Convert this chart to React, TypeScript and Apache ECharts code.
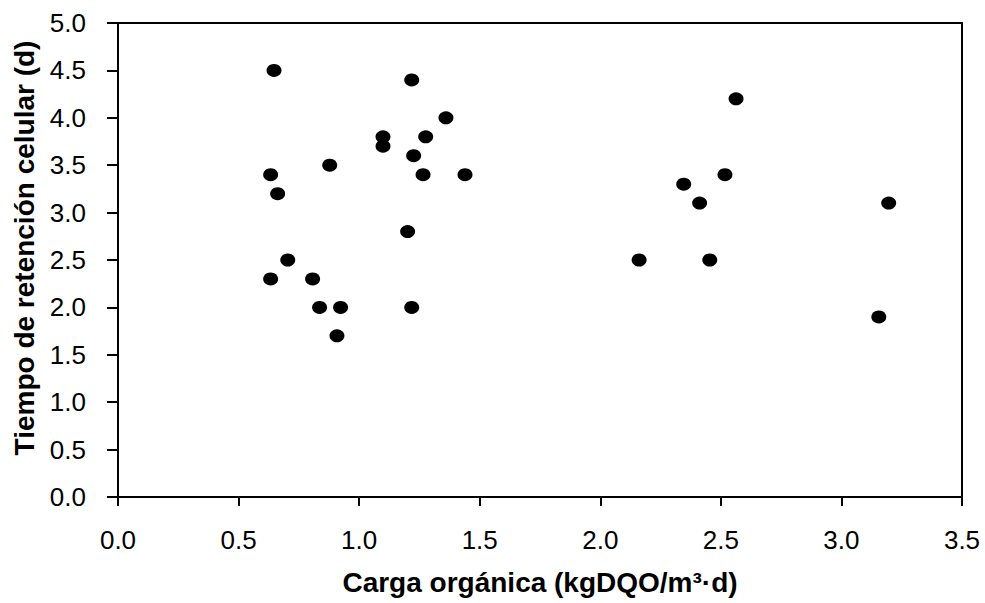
import React, { useEffect, useRef } from "react";
import * as echarts from "echarts";

const xTitle = "Carga orgánica (kgDQO/m³·d)";
const yTitle = "Tiempo de retención celular (d)";

const cargaOrganica = [
  0.647, 1.218, 1.36, 1.099, 1.276, 1.099, 1.226, 0.878, 0.633, 1.265,
  1.439, 0.662, 1.201, 0.704, 0.633, 0.807, 0.836, 0.923, 1.218, 0.908,
  2.563, 2.517, 2.346, 2.412, 3.196, 2.161, 2.454, 3.155,
];
const tiempoRetencion = [
  4.5, 4.4, 4.0, 3.8, 3.8, 3.7, 3.6, 3.5, 3.4, 3.4,
  3.4, 3.2, 2.8, 2.5, 2.3, 2.3, 2.0, 2.0, 2.0, 1.7,
  4.2, 3.4, 3.3, 3.1, 3.1, 2.5, 2.5, 1.9,
];

const FONT = "'Liberation Sans', Arial, sans-serif";

export default function App() {
  const ref = useRef<HTMLDivElement>(null);
  useEffect(() => {
    if (!ref.current) return;
    const chart = echarts.init(ref.current, null, { renderer: "svg" });
    const data = cargaOrganica.map((x, i) => [x, tiempoRetencion[i]]);
    chart.setOption({
      animation: false,
      backgroundColor: "#fff",
      grid: {
        left: 118,
        right: 23,
        top: 23,
        bottom: 106,
        show: true,
        borderColor: "#000",
        borderWidth: 2,
        backgroundColor: "transparent",
      },
      xAxis: {
        type: "value",
        min: 0,
        max: 3.5,
        interval: 0.5,
        name: xTitle,
        nameLocation: "middle",
        nameGap: 71,
        nameTextStyle: { fontFamily: FONT, fontSize: 28, fontWeight: "bold", color: "#000" },
        axisLine: { show: true, lineStyle: { color: "#000", width: 2 } },
        axisTick: { show: true, inside: false, length: 9, lineStyle: { color: "#000", width: 2 } },
        axisLabel: {
          fontFamily: FONT,
          fontSize: 26,
          color: "#000",
          margin: 30,
          formatter: (v: number) => v.toFixed(1),
        },
        splitLine: { show: false },
      },
      yAxis: {
        type: "value",
        min: 0,
        max: 5,
        interval: 0.5,
        name: yTitle,
        nameLocation: "middle",
        nameGap: 72,
        nameRotate: 90,
        nameTextStyle: {
          fontFamily: FONT,
          fontSize: 28,
          fontWeight: "bold",
          color: "#000",
          padding: [0, 0, 0, 24],
        },
        axisLine: { show: true, lineStyle: { color: "#000", width: 2 } },
        axisTick: { show: true, inside: false, length: 11, lineStyle: { color: "#000", width: 2 } },
        axisLabel: {
          fontFamily: FONT,
          fontSize: 26,
          color: "#000",
          margin: 32,
          formatter: (v: number) => v.toFixed(1),
        },
        splitLine: { show: false },
      },
      series: [
        {
          type: "scatter",
          data,
          symbol: "circle",
          symbolSize: [15, 13],
          itemStyle: { color: "#000", opacity: 1 },
        },
      ],
    });
    return () => chart.dispose();
  }, []);
  return <div ref={ref} style={{ width: 985, height: 603, position: "absolute", left: 0, top: 0 }} />;
}
